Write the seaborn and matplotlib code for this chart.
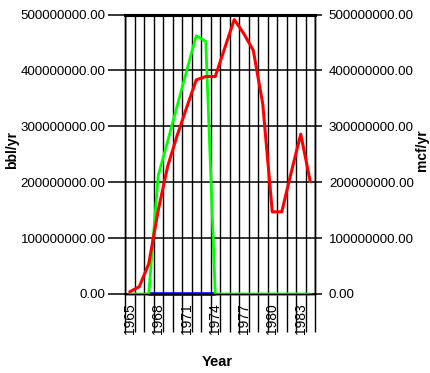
import matplotlib
matplotlib.use("Agg")
import matplotlib.pyplot as plt
import matplotlib.ticker as mticker
import seaborn as sns
import pandas as pd
import numpy as np

# ---- data ----
years = list(range(1965, 1985))
oil_bbl = [0, 0, 0, 212e6, 274e6, 337e6, 400e6, 462e6, 452e6, 0,
           0, 0, 0, 0, 0, 0, 0, 0, 0, 0]
gas_mcf = [4e6, 13e6, 54e6, 150e6, 229e6, 284e6, 334e6, 383e6, 389e6, 389e6,
           440e6, 491e6, 466e6, 436e6, 340e6, 147e6, 147e6, 218e6, 286e6, 201e6]
blue_years = [1967, 1968, 1969, 1970, 1971, 1972, 1973, 1974]
blue_vals = [0, 0, 0, 0, 0, 0, 0, 0]
label_years = [1965, 1968, 1971, 1974, 1977, 1980, 1983]
y_ticks = [0, 100e6, 200e6, 300e6, 400e6, 500e6]

df_oil = pd.DataFrame({"Year": years, "bbl/yr": oil_bbl})
df_gas = pd.DataFrame({"Year": years, "mcf/yr": gas_mcf})
df_blue = pd.DataFrame({"Year": blue_years, "val": blue_vals})

sns.set_style("white")
plt.rcParams['font.family'] = ['Liberation Sans', 'DejaVu Sans']
plt.rcParams['text.color'] = 'black'
plt.rcParams['xtick.color'] = 'black'
plt.rcParams['ytick.color'] = 'black'
plt.rcParams['axes.labelcolor'] = 'black'

fig = plt.figure(figsize=(4.3, 3.73), dpi=100)
ax = fig.add_axes([0.2907, 0.2118, 0.4419, 0.7493])
ax2 = ax.twinx()

for a in (ax, ax2):
    a.set_xlim(1964.5, 1984.5)
    a.set_ylim(0, 500e6)
    a.set_yticks(y_ticks)
    a.yaxis.set_major_formatter(mticker.FuncFormatter(lambda v, p: f"{v:.2f}"))
    for s in a.spines.values():
        s.set_color("black")
        s.set_linewidth(1.0)
        s.set_zorder(1)
    a.spines["top"].set_linewidth(2.2)

sns.lineplot(data=df_blue, x="Year", y="val", ax=ax, color="#0000ff", lw=2.6, zorder=6, clip_on=False)
sns.lineplot(data=df_oil, x="Year", y="bbl/yr", ax=ax, color="#00ff00", lw=2.0, zorder=7, clip_on=False)
sns.lineplot(data=df_gas, x="Year", y="mcf/yr", ax=ax2, color="#ff0000", lw=2.2, zorder=8, clip_on=False)

# vertical grid at year boundaries, long ticks below
ax.set_xticks(np.arange(1964.5, 1985.0, 1.0))
ax.set_xticklabels([])
ax.set_xticks(label_years, minor=True)
ax.set_xticklabels([str(y) for y in label_years], minor=True, rotation=90)
ax.tick_params(axis="x", which="major", direction="out", length=27, width=1.0,
               color="black", bottom=True)
ax.tick_params(axis="x", which="minor", length=0, pad=7, labelsize=10, bottom=True,
               labelcolor="black")
for lab in ax.get_xticklabels(minor=True):
    lab.set_va("top")
ax.grid(True, axis="x", which="major", color="black", lw=1.0)
ax.grid(True, axis="y", color="black", lw=1.1)
ax.set_axisbelow(True)

ax.tick_params(axis="y", direction="out", length=12, width=1.1, color="black",
               pad=2, labelsize=9.6, left=True, labelcolor="black")
ax2.tick_params(axis="y", direction="out", length=5, width=1.1, color="black",
                pad=5, labelsize=9.6, right=True, labelcolor="black")

ax.set_xlabel("Year", fontsize=10.5, fontweight="bold", color="black")
ax.xaxis.set_label_coords(0.485, -0.218)
ax.set_ylabel("bbl/yr", fontsize=10, fontweight="bold", color="black")
ax.yaxis.set_label_coords(-0.56, 0.515)
ax2.set_ylabel("mcf/yr", fontsize=10, fontweight="bold", color="black")
ax2.yaxis.set_label_coords(1.525, 0.515)

fig.savefig("out.png", dpi=100)
